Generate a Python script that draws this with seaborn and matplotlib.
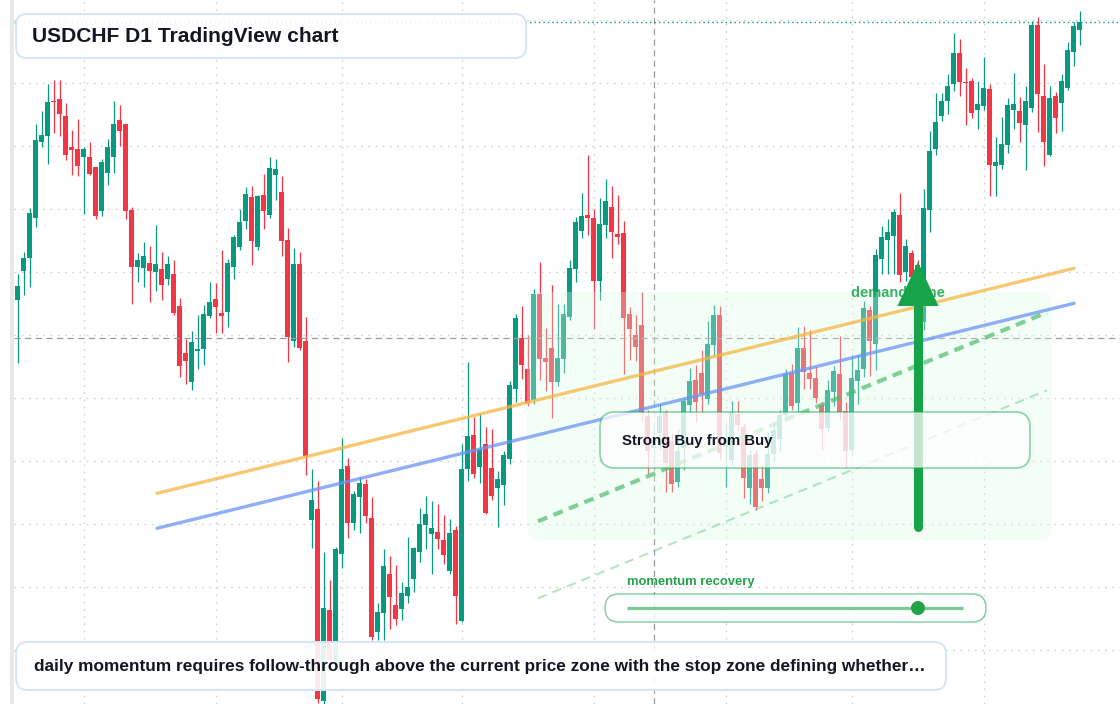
import matplotlib
matplotlib.use("Agg")
import matplotlib.pyplot as plt
from matplotlib.patches import FancyBboxPatch, Polygon, Circle, Rectangle
from matplotlib.transforms import Affine2D
import numpy as np
import pandas as pd
import seaborn as sns

sns.set_theme(style="white")
plt.rcParams['font.family'] = ['Liberation Sans', 'DejaVu Sans']

# ---------------- data (USDCHF daily candles) ----------------
opens = [
    .9035, .9064, .9077, .9117, .9193, .9199, .9234, .9236, .9219, .9188,
    .9186, .9178, .9178, .9168, .9124, .9162, .9178, .9215, .9211, .9125,
    .9068, .9067, .9072, .9063, .9066, .9056, .9061, .9029, .8982, .8953,
    .8984, .8986, .9019, .9036, .9022, .9023, .9068, .9088, .9114, .9138,
    .9088, .9140, .9120, .9160, .9143, .9095, .8994, .9071, .8994, .8815,
    .8826, .8634, .8725, .8675, .8781, .8869, .8812, .8838, .8851, .8817,
    .8703, .8722, .8761, .8730, .8726, .8739, .8756, .8783, .8810, .8801,
    .8803, .8795, .8764, .8805, .8714, .8866, .8900, .8868, .8891, .8867,
    .8847, .8850, .8876, .8946, .8997, .8966, .8935, .9041, .8977, .8987,
    .8953, .8976, .9018, .9066, .9104, .9120, .9117, .9054, .9110, .9128,
    .9101, .9102, .9021, .9000, .9010, .8919, .8887, .8902, .8923, .8894,
    .8853, .8887, .8930, .8955, .8962, .8936, .8990, .9020, .8892, .8875,
    .8921, .8908, .8847, .8881, .8856, .8847, .8881, .8896, .8920, .8962,
    .8932, .8987, .8962, .8957, .8930, .8907, .8943, .8961, .8924, .8885,
    .8954, .8966, .9025, .8991, .9076, .9095, .9099, .9120, .9063, .9082,
    .9070, .9013, .9125, .9186, .9219, .9234, .9251, .9282, .9253, .9254,
    .9225, .9229, .9246, .9169, .9170, .9190, .9225, .9224, .9210, .9227,
    .9310, .9239, .9180, .9239, .9232, .9247, .9283, .9305,
]
closes = [
    .9049, .9077, .9122, .9195, .9200, .9233, .9233, .9221, .9180, .9185,
    .9169, .9186, .9161, .9119, .9173, .9188, .9211, .9204, .9124, .9068,
    .9075, .9079, .9064, .9071, .9050, .9071, .9022, .8969, .8974, .8993,
    .8986, .9021, .9033, .9028, .9019, .9072, .9098, .9113, .9141, .9094,
    .9139, .9124, .9167, .9166, .9094, .8998, .9071, .8987, .8879, .8835,
    .8636, .8727, .8675, .8786, .8866, .8812, .8841, .8852, .8819, .8698,
    .8723, .8769, .8738, .8716, .8742, .8748, .8787, .8811, .8821, .8807,
    .8796, .8780, .8802, .8739, .8866, .8899, .8861, .8886, .8822, .8839,
    .8856, .8880, .8950, .9017, .8970, .8932, .9041, .8976, .8973, .8953,
    .8977, .9021, .9067, .9113, .9119, .9117, .9054, .9111, .9134, .9103,
    .9098, .9017, .9006, .8988, .8922, .8884, .8898, .8919, .8872, .8851,
    .8884, .8934, .8954, .8933, .8941, .8991, .9020, .8882, .8895, .8923,
    .8910, .8857, .8880, .8828, .8847, .8881, .8905, .8920, .8961, .8929,
    .8987, .8963, .8956, .8937, .8906, .8945, .8964, .8923, .8884, .8957,
    .8965, .9027, .8994, .9080, .9098, .9103, .9123, .9060, .9089, .9058,
    .9060, .9127, .9184, .9213, .9234, .9249, .9282, .9253, .9252, .9222,
    .9231, .9247, .9170, .9173, .9191, .9230, .9231, .9212, .9234, .9310,
    .9241, .9193, .9237, .9217, .9254, .9285, .9309, .9313,
]
highs = [
    .9061, .9083, .9127, .9211, .9224, .9251, .9255, .9255, .9232, .9205,
    .9216, .9188, .9193, .9168, .9176, .9196, .9234, .9230, .9211, .9128,
    .9082, .9093, .9089, .9110, .9083, .9079, .9075, .9037, .8996, .9004,
    .9020, .9030, .9053, .9052, .9085, .9076, .9100, .9126, .9148, .9149,
    .9140, .9161, .9178, .9176, .9159, .9107, .9087, .9083, .9018, .8866,
    .8854, .8783, .8755, .8788, .8897, .8877, .8844, .8858, .8856, .8838,
    .8732, .8786, .8779, .8770, .8753, .8798, .8788, .8827, .8839, .8834,
    .8831, .8820, .8816, .8809, .8891, .8973, .8918, .8921, .8908, .8906,
    .8864, .8884, .8954, .9021, .9029, .9000, .9046, .9073, .9007, .9050,
    .9031, .9031, .9075, .9118, .9142, .9180, .9126, .9137, .9156, .9149,
    .9140, .9114, .9028, .9020, .9043, .8925, .8910, .8931, .8925, .8902,
    .8906, .8937, .8967, .8970, .8985, .9014, .9030, .9029, .8912, .8934,
    .8934, .8912, .8885, .8885, .8870, .8903, .8913, .8925, .8966, .8971,
    .9008, .9009, .9005, .8969, .8933, .8955, .8969, .8999, .8933, .8980,
    .8980, .9034, .9029, .9086, .9109, .9116, .9126, .9142, .9096, .9085,
    .9075, .9146, .9204, .9242, .9242, .9261, .9302, .9296, .9267, .9257,
    .9254, .9278, .9251, .9198, .9218, .9237, .9262, .9238, .9249, .9314,
    .9318, .9271, .9249, .9243, .9261, .9293, .9313, .9324,
]
lows = [
    .8972, .9040, .9048, .9108, .9188, .9171, .9202, .9199, .9175, .9160,
    .9159, .9121, .9160, .9116, .9119, .9150, .9162, .9189, .9116, .9031,
    .9053, .9048, .9033, .9044, .9035, .9050, .9020, .8958, .8951, .8945,
    .8966, .8970, .9017, .9002, .9002, .9008, .9056, .9085, .9106, .9070,
    .9085, .9106, .9117, .9135, .9079, .8973, .8988, .8985, .8860, .8787,
    .8632, .8631, .8667, .8670, .8767, .8797, .8805, .8802, .8812, .8695,
    .8695, .8695, .8706, .8710, .8715, .8732, .8743, .8773, .8786, .8761,
    .8786, .8771, .8761, .8711, .8713, .8854, .8857, .8852, .8821, .8835,
    .8808, .8830, .8871, .8933, .8956, .8929, .8931, .8955, .8944, .8917,
    .8949, .8962, .9015, .9053, .9097, .9100, .9006, .9035, .9097, .9077,
    .9091, .8961, .8975, .8974, .8914, .8861, .8872, .8885, .8843, .8843,
    .8848, .8865, .8923, .8913, .8923, .8931, .8979, .8875, .8848, .8870,
    .8905, .8837, .8831, .8825, .8834, .8842, .8874, .8884, .8917, .8925,
    .8923, .8946, .8946, .8932, .8885, .8903, .8929, .8916, .8868, .8880,
    .8931, .8958, .8959, .8965, .9061, .9061, .9061, .9053, .9054, .9050,
    .9045, .9005, .9103, .9180, .9214, .9221, .9244, .9239, .9210, .9217,
    .9206, .9225, .9139, .9139, .9166, .9182, .9206, .9193, .9165, .9223,
    .9203, .9169, .9179, .9202, .9204, .9245, .9269, .9290,
]

# grid: month starts (bar index) and price levels
month_ticks = [11, 33, 54, 74, 96, 118, 139, 161]
price_grid = [0.8685, 0.8748, 0.8811, 0.8874, 0.8937, 0.9000,
              0.9063, 0.9126, 0.9189, 0.9252, 0.9315]

# drawn trend lines (bar index, price)
orange_x, orange_y = [23.25, 176.1], [0.8842, 0.9067]
blue_x, blue_y = [23.25, 176.1], [0.8807, 0.9032]
green_x, green_y = [86.75, 171.6], [0.8814, 0.9023]
pale_x, pale_y = [86.75, 171.6], [0.8737, 0.8945]

cross_bar, cross_price = 106, 0.8997
momentum_level = 0.866

title = "USDCHF D1 TradingView chart"
footer = ("daily momentum requires follow-through above the current price zone "
          "with the stop zone defining whether\u2026")
signal = "Strong Buy from Buy"
zone_label = "demand zone"
slider_label = "momentum recovery"

UP, DOWN = '#089981', '#f23645'
GREEN = '#16a34a'
INK = '#131722'

# ---------------- figure ----------------
W, H = 1120, 704
LEFT = 14
fig = plt.figure(figsize=(W / 100, H / 100), dpi=100)
fig.patch.set_facecolor('white')
ax = fig.add_axes([LEFT / W, 0, 1 - LEFT / W, 1])
ax.set_facecolor('white')
XLIM = ((LEFT - 17.5) / 6, (W - 17.5) / 6)
YLIM = (0.86313, 0.93353)
ax.set_xlim(*XLIM)
ax.set_ylim(*YLIM)
for s in ax.spines.values():
    s.set_visible(False)
ax.set_xticks(month_ticks)
ax.set_yticks(price_grid)
ax.tick_params(length=0, labelbottom=False, labelleft=False)
ax.grid(True, color='#d2d2d2', linestyle=(0, (1.2, 4)), linewidth=1.0)
ax.set_axisbelow(True)

# pixel transform for overlay annotations (x right, y down)
pxt = Affine2D().scale(1 / W, -1 / H).translate(0, 1) + fig.transFigure

df = pd.DataFrame({'o': opens, 'c': closes, 'h': highs, 'l': lows})
df['i'] = np.arange(len(df))
up = df['c'] >= df['o']
cols = np.where(up, UP, DOWN)
ax.vlines(df['i'], df['l'], df['h'], colors=cols, linewidth=0.9, zorder=2)
bottom = np.minimum(df['o'], df['c'])
height = np.maximum((df['c'] - df['o']).abs(), 0.00012)
ax.bar(df['i'], height, bottom=bottom, width=0.83, color=cols,
       linewidth=0, zorder=2.1)

# crosshair + last price
ax.axvline(cross_bar, color='#9a9a9a', linewidth=0.9, linestyle=(0, (5, 3.5)), zorder=2.5)
ax.axhline(cross_price, color='#9a9a9a', linewidth=0.9, linestyle=(0, (5, 3.5)), zorder=2.5)
ax.axhline(closes[-1], color=UP, linewidth=1.0, linestyle=(0, (1, 2.2)), zorder=2.5)

# demand zone shading
ax.add_patch(FancyBboxPatch((527, 292), 525, 248,
                            boxstyle='round,pad=0,rounding_size=14',
                            transform=pxt, facecolor='#dcfce7', alpha=0.32,
                            edgecolor='none', zorder=3))

# trend lines via seaborn
sns.lineplot(x=orange_x, y=orange_y, ax=ax, color='#f5b642', alpha=0.75,
             linewidth=2.4, zorder=4, legend=False)
sns.lineplot(x=blue_x, y=blue_y, ax=ax, color='#6b93f5', alpha=0.75,
             linewidth=2.4, zorder=4, legend=False)
sns.lineplot(x=green_x, y=green_y, ax=ax, color='#4cbb6c', alpha=0.7,
             linewidth=3.0, linestyle=(0, (2.4, 1.6)), zorder=4, legend=False)
sns.lineplot(x=pale_x, y=pale_y, ax=ax, color='#4cbb6c', alpha=0.4,
             linewidth=1.5, linestyle=(0, (4.5, 3)), zorder=4, legend=False)
ax.set_xlim(*XLIM)
ax.set_ylim(*YLIM)
ax.set_xlabel('')
ax.set_ylabel('')

# demand zone label (under arrow)
ax.text(851, 293, zone_label, transform=pxt, ha='left', va='center',
        fontsize=10.5, fontweight='bold', color=GREEN, alpha=0.85, zorder=5)

# big arrow
ax.plot([918, 918], [527, 300], transform=pxt, color=GREEN, linewidth=6.5,
        solid_capstyle='round', zorder=6)
ax.add_patch(Polygon([[897.5, 306], [938.5, 306], [918, 262]], closed=True,
                     transform=pxt, facecolor=GREEN, edgecolor='none', zorder=6))

# signal box
ax.add_patch(FancyBboxPatch((600, 412), 430, 56,
                            boxstyle='round,pad=0,rounding_size=15',
                            transform=pxt, facecolor=(1, 1, 1, 0.74),
                            edgecolor=(0.086, 0.64, 0.29, 0.45), linewidth=1.3,
                            zorder=7))
ax.text(622, 441, signal, transform=pxt, ha='left', va='center',
        fontsize=10.8, fontweight='bold', color=INK, zorder=8)

# momentum slider
ax.text(627, 582, slider_label, transform=pxt, ha='left', va='center',
        fontsize=9.4, fontweight='bold', color='#22a34a', zorder=8)
ax.add_patch(FancyBboxPatch((605, 594), 381, 28,
                            boxstyle='round,pad=0,rounding_size=14',
                            transform=pxt, facecolor=(1, 1, 1, 0.8),
                            edgecolor=(0.086, 0.64, 0.29, 0.5), linewidth=1.1,
                            zorder=7))
sx0, sx1 = 627, 963
ax.plot([sx0, sx1], [608, 608], transform=pxt, color='#4cbb6c', alpha=0.75,
        linewidth=2.3, solid_capstyle='butt', zorder=8)
ax.add_patch(Circle((sx0 + momentum_level * (sx1 - sx0), 608), 7, transform=pxt,
                    facecolor='#22a34a', edgecolor='none', zorder=9))

# title box
ax.add_patch(FancyBboxPatch((16, 14), 510, 44,
                            boxstyle='round,pad=0,rounding_size=11',
                            transform=pxt, facecolor=(1, 1, 1, 0.88),
                            edgecolor='#d6e4fb', linewidth=1.4, zorder=9,
                            clip_on=False))
ax.text(32, 36.5, title, transform=pxt, ha='left', va='center',
        fontsize=15.1, fontweight='bold', color=INK, zorder=10, clip_on=False)

# footer box
ax.add_patch(FancyBboxPatch((16, 642), 930, 48,
                            boxstyle='round,pad=0,rounding_size=12',
                            transform=pxt, facecolor=(1, 1, 1, 0.9),
                            edgecolor='#d6e4fb', linewidth=1.4, zorder=9,
                            clip_on=False))
ax.text(34, 666.5, footer, transform=pxt, ha='left', va='center',
        fontsize=12.4, fontweight='bold', color=INK, zorder=10, clip_on=False)

# left edge strip
fig.patches.append(Rectangle((10, 0), 4, H, transform=pxt, facecolor='#e8e8e8',
                             edgecolor='none', zorder=10))

fig.savefig('out.png', dpi=100, facecolor='white')
